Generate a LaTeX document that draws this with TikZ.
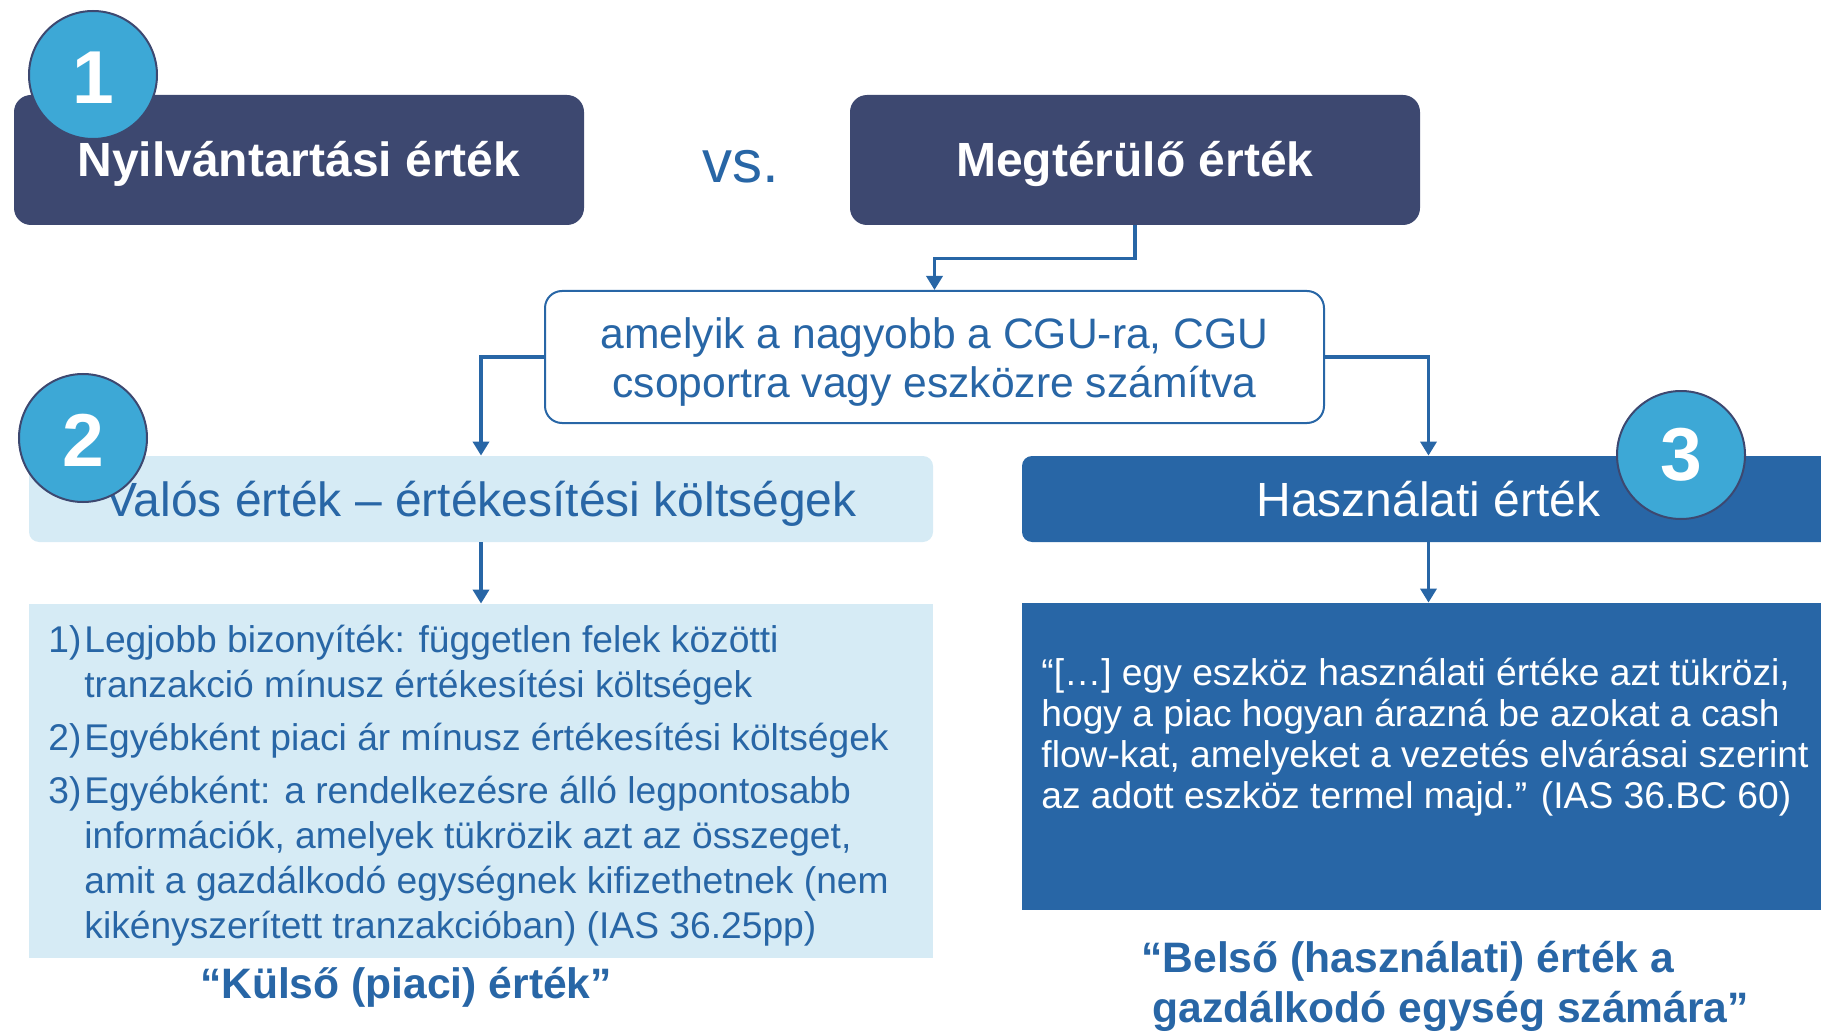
\documentclass[tikz,border=0pt]{standalone}
\usepackage{fontspec}
\setmainfont{Liberation Sans}
\usetikzlibrary{arrows.meta}
\definecolor{navy}{RGB}{61,72,112}
\definecolor{cblue}{RGB}{61,168,214}
\definecolor{lblue}{RGB}{214,235,245}
\definecolor{mblue}{RGB}{40,102,166}
\tikzset{
  hdr/.style={inner sep=0pt, text height=22pt, text depth=5pt, font=\fontsize{24}{28}\selectfont},
  darkbox/.style={hdr, fill=navy, text=white, rounded corners=8.5pt, minimum width=285pt, minimum height=65pt, font=\fontsize{24}{28}\selectfont\bfseries},
  num/.style={circle, fill=cblue, draw=navy, line width=1pt, minimum size=64pt, inner sep=0pt, text=white, font=\fontsize{37.5}{40}\selectfont\bfseries},
  conn/.style={draw=mblue, line width=1.8pt, -{Triangle[length=7pt,width=8pt]}},
  plain/.style={inner sep=0pt},
}
\begin{document}
\begin{tikzpicture}[x=0.5pt,y=-0.5pt]
\useasboundingbox (0,0) rectangle (1821,1032);
\clip (0,0) rectangle (1821,1032);
% top boxes
\node[darkbox] (ny) at (299,160) {Nyilvántartási érték};
\node[darkbox] (meg) at (1135,160) {Megtérülő érték};
\node[plain, anchor=base, text=mblue, font=\fontsize{30}{34}\selectfont] (vs) at (741,183) {vs.};
% middle box
\node[draw=mblue, line width=1pt, fill=white, rounded corners=8.5pt, minimum width=389.5pt, minimum height=66pt, inner sep=0pt, text=mblue, font=\fontsize{21.3}{24.5}\selectfont] (mid) at (934.5,357) {\raisebox{-3pt}[\height][\depth]{\begin{tabular}{@{}c@{}}amelyik a nagyobb a CGU-ra, CGU\\csoportra vagy eszközre számítva\end{tabular}}};
% second level
\node[hdr, fill=lblue, text=mblue, rounded corners=5pt, minimum width=452pt, minimum height=43pt] (fv) at (481,499) {Valós érték – értékesítési költségek};
\node[hdr, fill=mblue, text=white, rounded corners=5pt, minimum width=406.5pt, minimum height=43pt] (hv) at (1428.5,499) {Használati érték};
% third level boxes
\node[fill=lblue, minimum width=452pt, minimum height=177pt, inner sep=0pt] (fvb) at (481,781) {};
\node[fill=mblue, minimum width=406.5pt, minimum height=153.5pt, inner sep=0pt] (hvb) at (1428.5,756.5) {};
% connectors
\draw[conn] (meg.south) -- ++(0,33) -| (mid.north);
\draw[conn] (mid.west) -| (fv.north);
\draw[conn] (mid.east) -| (hv.north);
\draw[conn] (fv.south) -- (fvb.north);
\draw[conn] (hv.south) -- (hvb.north);
% list text
\node[plain, anchor=base west, text=mblue, font=\fontsize{18.6}{22.5}\selectfont] (lst) at (48,652) {\parbox[t]{440pt}{\raggedright\parskip=4pt
\hangindent=18pt\hangafter=1\makebox[18pt][l]{1)}Legjobb bizonyíték: független felek közötti\newline tranzakció mínusz értékesítési költségek\par
\hangindent=18pt\hangafter=1\makebox[18pt][l]{2)}Egyébként piaci ár mínusz értékesítési költségek\par
\hangindent=18pt\hangafter=1\makebox[18pt][l]{3)}Egyébként: a rendelkezésre álló legpontosabb\newline információk, amelyek tükrözik azt az összeget,\newline amit a gazdálkodó egységnek kifizethetnek (nem\newline kikényszerített tranzakcióban) (IAS 36.25pp)\par}};
% quote text
\node[plain, anchor=base west, text=white, font=\fontsize{18.6}{20.5}\selectfont] (quo) at (1041,685) {\begin{tabular}[t]{@{}l@{}}“[…] egy eszköz használati értéke azt tükrözi,\\hogy a piac hogyan árazná be azokat a cash\\flow-kat, amelyeket a vezetés elvárásai szerint\\az adott eszköz termel majd.” (IAS 36.BC 60)\end{tabular}};
% bottom labels
\node[plain, anchor=base, text=mblue, font=\fontsize{21.3}{25}\selectfont\bfseries] (kul) at (406,998) {“Külső (piaci) érték”};
\node[plain, anchor=base west, text=mblue, font=\fontsize{21.3}{25}\selectfont\bfseries] (bel) at (1141,972) {\begin{tabular}[t]{@{}l@{}}“Belső (használati) érték a\\\hspace*{5.5pt}gazdálkodó egység számára”\end{tabular}};
% number circles
\node[num] (c1) at (93,75) {\raisebox{-1.5pt}[\height][\depth]{1}};
\node[num] (c2) at (83,438) {\raisebox{-1pt}[\height][\depth]{2}};
\node[num] (c3) at (1681,455) {3};
\end{tikzpicture}
\end{document}
